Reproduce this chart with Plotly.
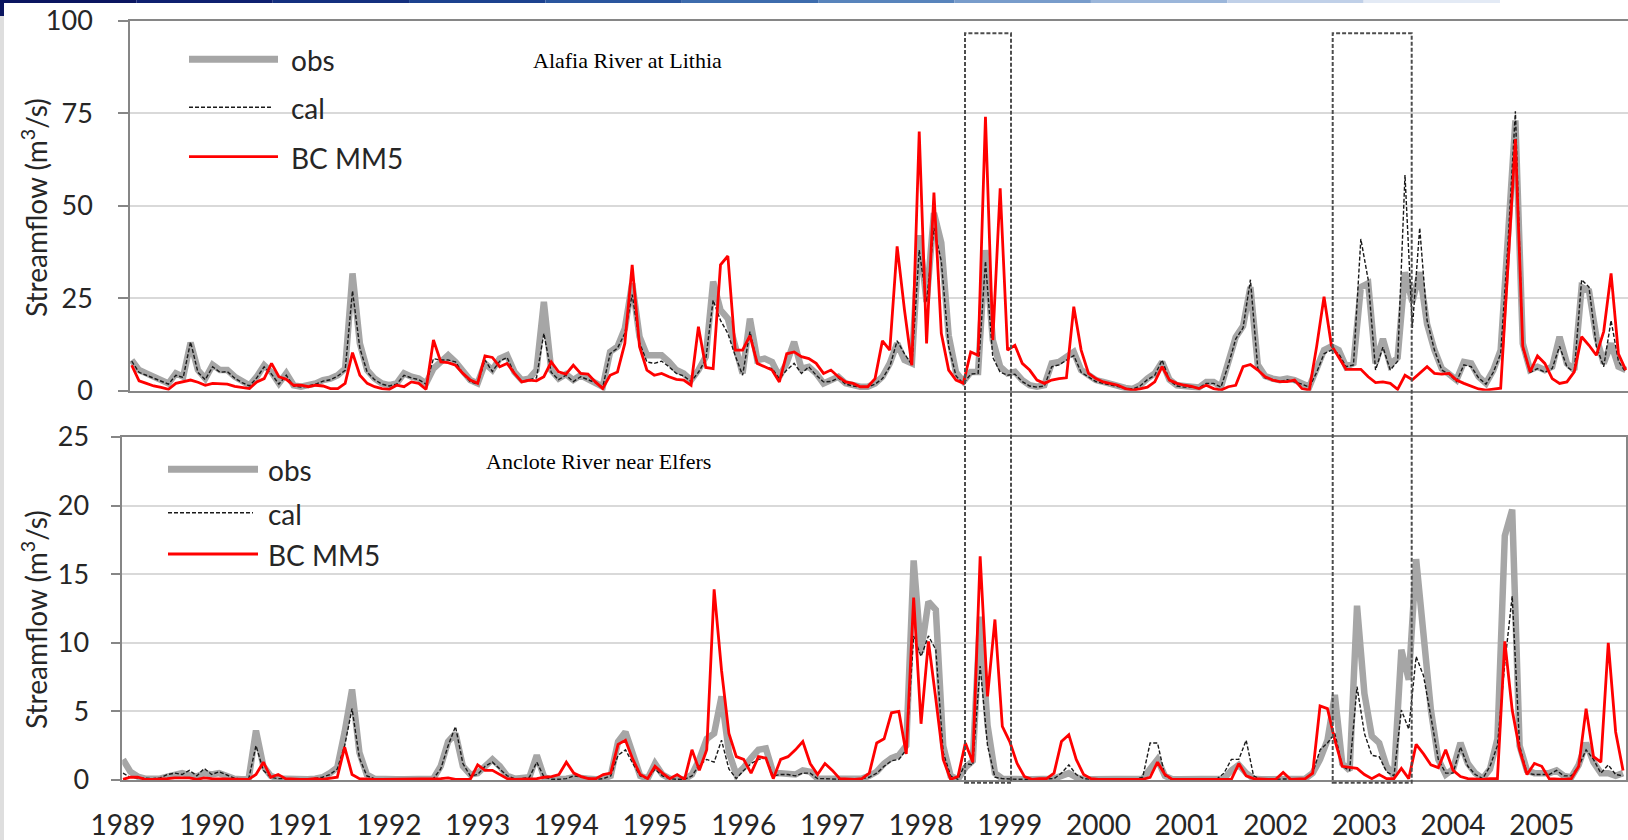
import plotly.graph_objects as go

# ---------------------------------------------------------------------------
# Monthly streamflow (m3/s), Jan 1989 - Dec 2005, one row per year
# ---------------------------------------------------------------------------
years = list(range(1989, 2006))
year_labels = [str(y) for y in years]

# Alafia River at Lithia
alafia_obs = [
    8.3, 5.6, 4.7, 3.8, 2.9, 2.0, 4.7, 3.8, 13.0, 5.6, 3.3, 7.0,
    5.6, 5.6, 3.8, 2.4, 1.5, 3.8, 6.9, 5.0, 2.0, 4.7, 1.5, 1.1,
    1.5, 2.0, 2.9, 3.3, 4.2, 6.0, 31.7, 12.8, 5.6, 3.3, 2.0, 1.5,
    2.0, 4.7, 3.8, 3.3, 2.0, 6.0, 7.8, 9.6, 7.8, 5.1, 2.9, 2.0,
    7.4, 5.6, 8.7, 9.6, 5.1, 2.9, 3.3, 5.6, 24.0, 5.6, 3.3, 4.5,
    2.9, 4.2, 3.3, 2.4, 1.1, 10.5, 11.9, 16.8, 29.0, 14.6, 9.6, 9.6,
    9.6, 7.8, 5.6, 4.7, 2.9, 5.6, 9.2, 29.5, 21.8, 19.5, 11.9, 4.7,
    19.5, 8.3, 8.7, 7.8, 3.8, 7.5, 13.2, 6.0, 6.5, 4.7, 2.0, 2.9,
    3.8, 2.0, 1.5, 1.1, 1.1, 2.0, 3.8, 7.4, 12.8, 8.3, 7.4, 42.0,
    24.0, 48.0, 40.0, 15.0, 5.0, 2.5, 5.1, 5.1, 38.0, 13.7, 6.5, 4.7,
    5.1, 2.9, 1.5, 1.1, 1.5, 7.4, 7.8, 9.2, 10.5, 5.6, 4.2, 2.9,
    2.4, 1.8, 1.2, 0.8, 0.5, 1.5, 3.3, 4.7, 7.8, 3.0, 1.5, 1.2,
    1.2, 0.9, 2.4, 2.4, 1.1, 8.0, 14.5, 17.5, 28.0, 7.0, 4.0, 3.3,
    2.9, 3.3, 2.9, 2.0, 1.1, 6.0, 11.0, 12.0, 11.0, 6.5, 7.5, 28.0,
    29.0, 7.4, 14.0, 7.0, 9.0, 32.0, 24.0, 32.0, 18.0, 11.0, 6.0, 4.5,
    2.9, 7.8, 7.4, 3.8, 2.0, 5.6, 11.0, 42.0, 73.0, 12.8, 5.6, 6.5,
    5.6, 6.5, 14.6, 7.4, 5.6, 28.0, 27.0, 14.6, 7.4, 12.8, 6.5, 5.6,
]
alafia_cal = [
    8.0, 5.0, 4.2, 3.4, 2.5, 1.8, 4.2, 3.6, 13.2, 5.0, 3.0, 6.5,
    5.0, 5.2, 3.4, 2.2, 1.3, 3.5, 6.5, 4.5, 1.8, 4.2, 1.3, 1.0,
    1.3, 1.8, 2.6, 3.0, 4.0, 5.5, 27.0, 11.5, 5.0, 3.0, 1.8, 1.3,
    1.8, 4.2, 3.5, 3.0, 1.8, 8.7, 8.3, 8.3, 7.8, 4.7, 2.5, 1.8,
    8.3, 5.2, 8.0, 9.0, 4.7, 2.5, 3.0, 3.5, 15.5, 5.0, 3.0, 4.2,
    2.5, 3.8, 3.0, 2.2, 1.0, 10.0, 11.5, 15.5, 26.0, 13.0, 7.8, 7.4,
    8.0, 6.5, 4.7, 4.0, 2.5, 5.0, 8.5, 24.5, 19.0, 15.5, 9.5, 4.2,
    16.0, 7.4, 6.5, 6.0, 3.3, 5.6, 7.4, 4.7, 6.5, 4.2, 2.4, 2.5,
    3.5, 1.8, 1.3, 1.0, 1.0, 1.8, 3.3, 6.5, 13.5, 10.0, 7.0, 38.0,
    24.0, 44.0, 35.0, 12.0, 4.0, 2.0, 4.5, 4.7, 35.0, 9.0, 5.0, 4.2,
    4.5, 2.5, 1.3, 1.0, 1.3, 6.5, 7.0, 8.3, 9.5, 5.0, 3.8, 2.5,
    2.0, 1.5, 1.0, 0.7, 0.5, 1.3, 3.0, 4.2, 8.3, 2.8, 1.3, 1.0,
    1.0, 0.8, 2.0, 2.0, 1.0, 7.0, 14.0, 17.0, 30.0, 6.0, 3.5, 3.0,
    2.5, 3.0, 2.5, 1.8, 1.0, 5.0, 10.0, 11.0, 10.0, 6.5, 7.0, 41.0,
    30.0, 5.6, 11.8, 5.6, 8.0, 58.3, 17.0, 44.0, 19.0, 11.0, 5.6, 4.5,
    2.5, 7.0, 6.5, 3.5, 1.8, 5.0, 10.0, 40.0, 75.5, 11.5, 5.0, 6.0,
    5.0, 6.0, 12.0, 6.5, 5.0, 30.0, 28.0, 12.0, 6.5, 19.0, 8.0, 5.0,
]
alafia_bc = [
    6.9, 2.7, 2.0, 1.3, 0.9, 0.4, 2.0, 2.4, 2.9, 2.3, 1.5, 2.0,
    2.0, 1.8, 1.2, 1.0, 0.6, 2.4, 3.3, 7.4, 3.8, 3.1, 1.5, 1.5,
    1.1, 1.5, 1.3, 0.6, 0.6, 2.0, 10.3, 4.2, 2.0, 1.1, 0.6, 0.4,
    1.5, 1.1, 2.4, 2.0, 0.4, 13.7, 7.8, 7.6, 6.9, 4.7, 2.9, 2.0,
    9.4, 9.0, 6.5, 7.4, 4.7, 2.4, 2.9, 2.7, 3.8, 7.8, 5.1, 4.5,
    6.9, 4.7, 4.5, 2.4, 0.6, 4.2, 5.1, 12.8, 34.0, 11.9, 5.6, 4.2,
    4.7, 3.8, 3.1, 2.9, 1.5, 17.3, 6.3, 6.0, 34.0, 36.4, 11.0, 11.0,
    14.9, 7.4, 6.5, 5.6, 2.4, 10.0, 10.5, 9.2, 8.7, 7.4, 4.7, 5.6,
    3.8, 2.4, 2.0, 1.1, 1.1, 3.3, 13.5, 11.0, 39.0, 21.8, 6.9, 70.0,
    12.8, 53.5, 15.5, 5.6, 2.9, 2.0, 10.5, 9.6, 74.0, 13.7, 54.7, 11.0,
    12.3, 7.4, 5.6, 2.9, 2.0, 2.9, 3.3, 3.5, 22.7, 11.0, 4.7, 3.3,
    2.4, 2.0, 1.5, 0.6, 0.2, 0.5, 1.0, 2.4, 6.5, 2.9, 2.0, 1.5,
    1.2, 0.6, 1.5, 0.6, 0.2, 1.1, 1.5, 6.5, 7.1, 5.6, 3.8, 2.9,
    2.5, 2.5, 2.9, 0.6, 0.2, 12.0, 25.4, 12.3, 9.2, 5.8, 5.8, 5.8,
    3.8, 2.2, 2.4, 2.0, 0.4, 4.2, 3.0, 4.7, 6.5, 4.7, 4.5, 4.7,
    2.9, 2.0, 1.2, 0.5, 0.2, 0.5, 0.7, 34.0, 68.0, 12.0, 5.1, 9.4,
    7.4, 3.3, 2.0, 2.4, 5.1, 14.6, 12.3, 9.6, 16.0, 31.7, 10.0, 5.6,
]

# Anclote River near Elfers
anclote_obs = [
    1.5, 0.6, 0.25, 0.1, 0.1, 0.1, 0.25, 0.35, 0.5, 0.35, 0.25, 0.5,
    0.4, 0.5, 0.3, 0.1, 0.05, 0.05, 3.6, 1.0, 0.3, 0.1, 0.1, 0.05,
    0.05, 0.05, 0.1, 0.2, 0.5, 0.9, 3.5, 6.6, 2.0, 0.4, 0.1, 0.05,
    0.05, 0.05, 0.05, 0.05, 0.05, 0.05, 0.1, 1.0, 2.8, 3.4, 1.0, 0.4,
    0.5, 1.0, 1.5, 1.0, 0.3, 0.1, 0.1, 0.2, 1.8, 0.2, 0.05, 0.05,
    0.1, 0.2, 0.2, 0.1, 0.05, 0.1, 0.3, 2.8, 3.5, 1.7, 0.3, 0.1,
    1.2, 0.4, 0.1, 0.05, 0.05, 0.4, 1.5, 3.0, 3.4, 6.1, 2.0, 0.4,
    0.9, 1.6, 2.2, 2.3, 0.5, 0.5, 0.5, 0.4, 0.7, 0.6, 0.1, 0.1,
    0.05, 0.05, 0.05, 0.05, 0.1, 0.3, 0.6, 1.2, 1.6, 1.8, 2.5, 16.0,
    9.3, 13.0, 12.4, 2.5, 0.3, 0.05, 0.9, 1.4, 11.9, 4.0, 0.5, 0.1,
    0.05, 0.05, 0.05, 0.05, 0.05, 0.05, 0.1, 0.3, 0.5, 0.2, 0.05, 0.05,
    0.05, 0.05, 0.05, 0.05, 0.05, 0.05, 0.1, 0.8, 1.5, 0.3, 0.05, 0.05,
    0.05, 0.05, 0.05, 0.05, 0.05, 0.1, 0.7, 1.1, 0.5, 0.1, 0.05, 0.05,
    0.05, 0.05, 0.05, 0.05, 0.1, 0.5, 1.5, 2.9, 6.2, 1.2, 0.7, 12.7,
    6.3, 3.2, 2.7, 1.0, 0.3, 9.5, 7.3, 16.1, 10.0, 5.1, 1.5, 0.4,
    0.8, 2.7, 1.2, 0.5, 0.1, 0.8, 3.0, 17.8, 19.7, 2.5, 0.7, 0.5,
    0.5, 0.5, 0.7, 0.3, 0.2, 1.1, 2.7, 1.3, 0.5, 0.5, 0.3, 0.5,
]
anclote_cal = [
    0.5, 0.2, 0.15, 0.1, 0.1, 0.15, 0.4, 0.5, 0.4, 0.7, 0.3, 0.85,
    0.4, 0.6, 0.4, 0.15, 0.05, 0.05, 2.5, 0.7, 0.2, 0.1, 0.1, 0.05,
    0.05, 0.05, 0.1, 0.2, 0.4, 0.8, 2.5, 5.2, 1.6, 0.3, 0.1, 0.05,
    0.05, 0.05, 0.05, 0.05, 0.05, 0.05, 0.1, 0.8, 2.5, 3.9, 1.2, 0.3,
    0.4, 1.0, 1.3, 0.8, 0.3, 0.1, 0.1, 0.2, 1.3, 0.2, 0.05, 0.05,
    0.1, 0.3, 0.2, 0.1, 0.05, 0.1, 0.3, 1.8, 2.2, 1.2, 0.3, 0.1,
    0.8, 0.3, 0.1, 0.05, 0.05, 0.3, 1.1, 1.5, 1.3, 2.9, 0.8, 0.1,
    0.7, 1.2, 1.5, 1.6, 0.3, 0.4, 0.4, 0.3, 0.5, 0.5, 0.1, 0.1,
    0.05, 0.05, 0.05, 0.05, 0.1, 0.2, 0.5, 1.0, 1.4, 1.5, 2.2, 10.5,
    9.0, 10.5, 9.5, 2.0, 0.3, 0.05, 1.2, 1.1, 8.3, 2.5, 0.2, 0.1,
    0.05, 0.05, 0.05, 0.05, 0.05, 0.05, 0.1, 0.5, 1.1, 0.4, 0.1, 0.05,
    0.05, 0.05, 0.05, 0.05, 0.05, 0.05, 0.2, 2.7, 2.7, 0.3, 0.05, 0.05,
    0.05, 0.05, 0.05, 0.05, 0.05, 0.5, 1.5, 1.5, 2.9, 0.3, 0.05, 0.05,
    0.05, 0.05, 0.05, 0.05, 0.1, 0.5, 2.2, 2.7, 3.4, 1.0, 0.7, 6.8,
    3.4, 1.8, 1.7, 0.6, 0.3, 5.1, 3.7, 9.0, 7.6, 4.6, 1.5, 0.5,
    0.5, 2.4, 1.0, 0.4, 0.1, 1.0, 2.5, 8.5, 13.4, 2.5, 0.5, 0.4,
    0.4, 0.4, 0.7, 0.3, 0.3, 1.0, 2.2, 1.5, 0.5, 1.1, 0.4, 0.3,
]
anclote_bc = [
    0.05, 0.2, 0.2, 0.05, 0.05, 0.05, 0.1, 0.15, 0.15, 0.15, 0.05, 0.15,
    0.1, 0.1, 0.1, 0.05, 0.05, 0.05, 0.4, 1.3, 0.2, 0.4, 0.1, 0.05,
    0.05, 0.05, 0.1, 0.05, 0.1, 0.2, 2.4, 0.4, 0.1, 0.05, 0.05, 0.05,
    0.05, 0.05, 0.05, 0.1, 0.05, 0.05, 0.05, 0.1, 0.15, 0.05, 0.05, 0.05,
    1.1, 0.7, 0.7, 0.4, 0.1, 0.05, 0.05, 0.05, 0.1, 0.2, 0.25, 0.4,
    1.3, 0.5, 0.25, 0.1, 0.1, 0.4, 0.5, 2.6, 2.9, 1.5, 0.4, 0.1,
    1.0, 0.5, 0.1, 0.4, 0.05, 2.2, 0.7, 2.2, 13.9, 8.0, 3.4, 1.7,
    1.5, 0.5, 1.7, 1.6, 0.1, 1.5, 1.7, 2.2, 2.8, 1.2, 0.4, 1.2,
    0.7, 0.1, 0.05, 0.05, 0.1, 0.5, 2.7, 3.0, 4.9, 5.0, 1.9, 13.3,
    4.1, 10.1, 5.9, 1.5, 0.05, 0.25, 2.7, 1.3, 16.3, 6.1, 11.7, 3.9,
    2.8, 1.2, 0.25, 0.05, 0.1, 0.1, 0.5, 2.8, 3.3, 1.5, 0.4, 0.1,
    0.05, 0.05, 0.05, 0.05, 0.05, 0.05, 0.05, 0.2, 1.3, 0.4, 0.05, 0.05,
    0.05, 0.05, 0.05, 0.05, 0.05, 0.05, 0.05, 1.2, 0.3, 0.1, 0.05, 0.05,
    0.05, 0.55, 0.05, 0.05, 0.1, 0.5, 5.4, 5.2, 2.9, 1.0, 0.9, 0.85,
    0.4, 0.1, 0.4, 0.1, 0.1, 0.85, 0.1, 2.6, 1.9, 1.1, 0.9, 2.2,
    0.7, 0.25, 0.1, 0.05, 0.05, 0.1, 0.1, 10.1, 5.1, 2.2, 0.4, 1.2,
    1.0, 0.1, 0.05, 0.05, 0.1, 1.0, 5.2, 1.7, 1.3, 10.0, 3.5, 0.7,
]

# ---------------------------------------------------------------------------
# Layout helpers (canvas is 1628 x 840 px)
# ---------------------------------------------------------------------------
W, H = 1628, 840


def px(x):
    return x / W


def py(y):
    return 1 - y / H


months = list(range(len(alafia_obs)))
year_ticks = [12 * k for k in range(len(years))]

FONT = "Lato, 'Open Sans', sans-serif"
SERIF = "Liberation Serif, Times New Roman, serif"
TEXT = "#262626"
AXIS = "#868686"
GRID = "#d9d9d9"
OBS_C = "#a6a6a6"
CAL_C = "#1a1a1a"
BC_C = "#ff0000"
CAL_DASH = "4px,2px"

fig = go.Figure()

for xa, ya, obs, cal, bc in (
    ("x", "y", alafia_obs, alafia_cal, alafia_bc),
    ("x2", "y2", anclote_obs, anclote_cal, anclote_bc),
):
    fig.add_trace(go.Scatter(x=months, y=obs, mode="lines", name="obs",
                             line=dict(color=OBS_C, width=6.5),
                             xaxis=xa, yaxis=ya, showlegend=False))
    fig.add_trace(go.Scatter(x=months, y=cal, mode="lines", name="cal",
                             line=dict(color=CAL_C, width=1.4, dash=CAL_DASH),
                             xaxis=xa, yaxis=ya, showlegend=False))
    fig.add_trace(go.Scatter(x=months, y=bc, mode="lines", name="BC MM5",
                             line=dict(color=BC_C, width=2.8),
                             xaxis=xa, yaxis=ya, showlegend=False))

axis_common = dict(showline=True, linecolor=AXIS, linewidth=1.5, zeroline=False,
                   automargin=False)

fig.update_layout(
    width=W, height=H,
    margin=dict(l=0, r=0, t=0, b=0),
    paper_bgcolor="white", plot_bgcolor="white",
    font=dict(family=FONT, color=TEXT),
    xaxis=dict(domain=[px(130), 1.0], range=[-0.23, 203.3],
               showgrid=False, showticklabels=False, ticks="",
               mirror=True, anchor="y", **axis_common),
    yaxis=dict(domain=[py(390.8), py(20.5)], range=[0, 100],
               tickvals=[0, 25, 50, 75, 100], showgrid=True,
               gridcolor=GRID, gridwidth=1.5, ticks="outside", ticklen=10,
               tickcolor=AXIS, tickwidth=1.5, ticklabelstandoff=20,
               tickfont=dict(family=FONT, size=27, color=TEXT),
               anchor="x", **axis_common),
    xaxis2=dict(domain=[px(122.3), px(1626)], range=[-0.09, 203.4],
                tickvals=year_ticks, ticktext=year_labels, showgrid=False,
                ticks="", ticklabelstandoff=20, mirror=True, anchor="y2",
                tickfont=dict(family=FONT, size=28, color=TEXT),
                **axis_common),
    yaxis2=dict(domain=[py(780), py(437)], range=[0, 25],
                tickvals=[0, 5, 10, 15, 20, 25], showgrid=True,
                gridcolor=GRID, gridwidth=1.5, ticks="outside", ticklen=10,
                tickcolor=AXIS, tickwidth=1.5, ticklabelstandoff=16,
                tickfont=dict(family=FONT, size=27, color=TEXT),
                mirror=True, anchor="x2", **axis_common),
)

shapes = []
annotations = []

# Hand-drawn legends inside each panel
legend_specs = [
    # (line x0, line x1, text x, [(y, label, style)...])
    (189, 278, 289, [(59.3, "obs", "obs"), (107.3, "cal", "cal"), (156.7, "BC MM5", "bc")]),
    (168, 258, 266, [(469.3, "obs", "obs"), (512.7, "cal", "cal"), (554.0, "BC MM5", "bc")]),
]
styles = {
    "obs": dict(color=OBS_C, width=7),
    "cal": dict(color=CAL_C, width=1.4, dash=CAL_DASH),
    "bc": dict(color=BC_C, width=2.8),
}
for x0, x1, tx, items in legend_specs:
    for y, label, st in items:
        shapes.append(dict(type="line", xref="paper", yref="paper",
                           x0=px(x0), x1=px(x1 if st != "cal" else x1 - 5),
                           y0=py(y), y1=py(y), line=styles[st]))
        annotations.append(dict(xref="paper", yref="paper", x=px(tx), y=py(y + 1),
                                text=label, showarrow=False, xanchor="left",
                                yanchor="middle",
                                font=dict(family=FONT, size=28, color=TEXT)))

# Station names
annotations.append(dict(xref="paper", yref="paper", x=px(627), y=py(61),
                        text="Alafia River at Lithia", showarrow=False,
                        xanchor="center", yanchor="middle",
                        font=dict(family=SERIF, size=22, color="#000000")))
annotations.append(dict(xref="paper", yref="paper", x=px(598), y=py(461),
                        text="Anclote River near Elfers", showarrow=False,
                        xanchor="center", yanchor="middle",
                        font=dict(family=SERIF, size=22, color="#000000")))

# Axis titles
for yc in (208, 620):
    annotations.append(dict(xref="paper", yref="paper", x=px(34), y=py(yc),
                            text="Streamflow (m<sup>3</sup>/s)", showarrow=False,
                            textangle=-90, xanchor="center", yanchor="middle",
                            font=dict(family=FONT, size=28, color=TEXT)))

# Highlight windows spanning both panels
for x0, x1 in ((965, 1011), (1332.7, 1411.7)):
    shapes.append(dict(type="rect", xref="paper", yref="paper",
                       x0=px(x0), x1=px(x1), y0=py(782.7), y1=py(33.3),
                       line=dict(color="#4d4d4d", width=2, dash="4px,2px"),
                       fillcolor="rgba(0,0,0,0)", layer="above"))

# Slide frame accents: left strip and fading top rule
shapes.append(dict(type="rect", xref="paper", yref="paper", x0=0, x1=px(4),
                   y0=0, y1=1, line=dict(width=0), fillcolor="#dedede", layer="below"))
shapes.append(dict(type="rect", xref="paper", yref="paper", x0=0, x1=px(4),
                   y0=py(16), y1=1, line=dict(width=0), fillcolor="#0b1660", layer="below"))
bar_cols = ["#0b1660", "#0f2070", "#14307f", "#1c428f", "#2a569e", "#3d6cad",
            "#5884bc", "#789ccb", "#9bb6da", "#c0d0e8", "#e3eaf5"]
seg = 1500 / len(bar_cols)
for k, c in enumerate(bar_cols):
    shapes.append(dict(type="rect", xref="paper", yref="paper",
                       x0=px(k * seg), x1=px((k + 1) * seg), y0=py(3), y1=1,
                       line=dict(width=0), fillcolor=c, layer="below"))

fig.update_layout(shapes=shapes, annotations=annotations)

fig.write_html("out.html")
